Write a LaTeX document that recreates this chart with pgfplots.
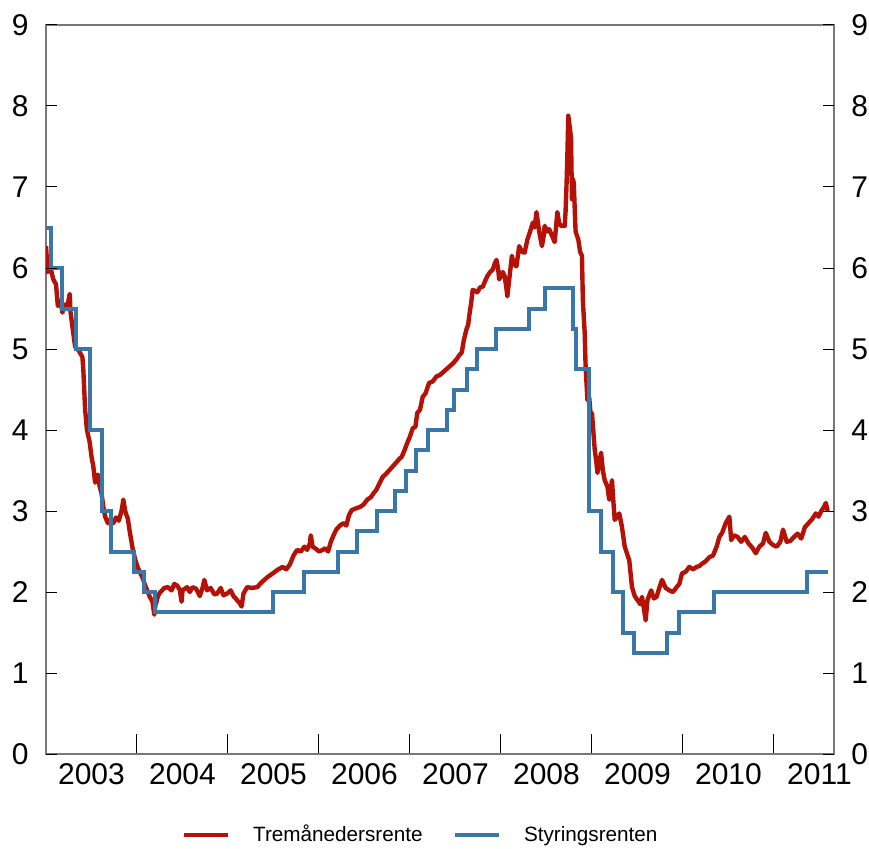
\documentclass[border=0pt]{standalone}
\usepackage{pgfplots}
\pgfplotsset{compat=1.18}
\usepackage{fontspec}
\setmainfont{Liberation Sans}
\definecolor{nibor}{RGB}{180,18,6}
\definecolor{styr}{RGB}{56,119,168}
\definecolor{axgray}{RGB}{120,120,120}

\pgfplotsset{
  base/.style={
    width=394pt, height=364.5pt, scale only axis,
    xmin=2003, xmax=2011.66, ymin=0, ymax=9,
    tick align=inside,
    tick style={black, line width=0.5pt},
    /pgf/number format/assume math mode=true,
    tick label style={font=\fontsize{15}{18}\selectfont},
  }
}

\begin{document}
\begin{tikzpicture}
\begin{axis}[base,
  axis line style={axgray, line width=0.8pt},
  xtick={2003,2004,2005,2006,2007,2008,2009,2010,2011},
  xticklabels={2003,2004,2005,2006,2007,2008,2009,2010,2011},
  xtick pos=left,
  xticklabel style={anchor=north, inner sep=0pt, xshift=22.75pt, yshift=-4.5pt},
  major tick length=10pt,
  ytick=\empty,
  legend columns=2,
  legend style={at={(axis description cs:0.474,0)}, anchor=center, yshift=-40.5pt,
    draw=none, fill=none, font=\fontsize{10.35}{12}\selectfont,
    nodes={inner sep=0pt},
    /tikz/every even column/.append style={column sep=15pt}},
  legend image code/.code={\draw[#1, line width=2.4pt] (0pt,0pt) -- (22pt,0pt); \path (33.5pt,0pt);},
]
% tremaanedersrente (3m NIBOR)
\addplot[nibor, line width=2.2pt, line join=round] coordinates {
(2003.00,6.27) (2003.01,6.10) (2003.02,5.95) (2003.05,6.00) (2003.08,5.86)
(2003.11,5.80) (2003.13,5.53) (2003.16,5.60) (2003.18,5.45) (2003.21,5.55)
(2003.23,5.49) (2003.26,5.68) (2003.27,5.45) (2003.29,5.28) (2003.32,5.03)
(2003.36,4.98) (2003.40,4.90) (2003.41,4.75) (2003.43,4.25) (2003.45,4.00)
(2003.48,3.85) (2003.50,3.67) (2003.52,3.55) (2003.54,3.35) (2003.57,3.45)
(2003.59,3.30) (2003.61,3.22) (2003.63,3.05) (2003.65,2.93) (2003.68,2.85)
(2003.71,2.90) (2003.74,2.85) (2003.77,2.92) (2003.80,2.88) (2003.83,3.00)
(2003.85,3.14) (2003.87,3.00) (2003.90,2.90) (2003.92,2.75) (2003.95,2.55)
(2003.98,2.40) (2004.01,2.30) (2004.03,2.25) (2004.06,2.18) (2004.09,2.08)
(2004.12,2.00) (2004.14,1.94) (2004.17,1.88) (2004.19,1.72) (2004.20,1.82)
(2004.23,1.95) (2004.25,1.99) (2004.30,2.05) (2004.34,2.06) (2004.38,2.02)
(2004.41,2.10) (2004.44,2.08) (2004.47,2.03) (2004.49,1.88) (2004.50,2.02)
(2004.55,2.06) (2004.58,2.00) (2004.61,2.06) (2004.65,2.04) (2004.69,1.95)
(2004.72,2.05) (2004.74,2.15) (2004.77,2.02) (2004.81,2.05) (2004.85,1.97)
(2004.88,1.98) (2004.92,2.05) (2004.95,1.96) (2004.99,1.98) (2005.03,2.02)
(2005.06,1.95) (2005.10,1.90) (2005.13,1.86) (2005.15,1.82) (2005.17,1.98)
(2005.21,2.06) (2005.26,2.05) (2005.32,2.06) (2005.37,2.12) (2005.43,2.18)
(2005.48,2.22) (2005.54,2.27) (2005.60,2.31) (2005.64,2.28) (2005.68,2.34)
(2005.72,2.45) (2005.76,2.52) (2005.80,2.50) (2005.84,2.56) (2005.87,2.52)
(2005.90,2.60) (2005.91,2.70) (2005.93,2.56) (2005.97,2.53) (2006.00,2.50)
(2006.04,2.52) (2006.07,2.54) (2006.10,2.50) (2006.13,2.62) (2006.16,2.70)
(2006.19,2.77) (2006.23,2.82) (2006.27,2.85) (2006.30,2.82) (2006.33,2.95)
(2006.36,3.01) (2006.40,3.03) (2006.45,3.05) (2006.49,3.08) (2006.53,3.14)
(2006.57,3.17) (2006.60,3.22) (2006.63,3.26) (2006.66,3.33) (2006.70,3.42)
(2006.73,3.45) (2006.77,3.50) (2006.81,3.55) (2006.85,3.60) (2006.88,3.64)
(2006.91,3.67) (2006.94,3.75) (2006.97,3.84) (2007.00,3.92) (2007.03,4.02)
(2007.06,4.04) (2007.08,4.21) (2007.11,4.25) (2007.14,4.41) (2007.17,4.45)
(2007.21,4.58) (2007.25,4.60) (2007.29,4.66) (2007.33,4.68) (2007.36,4.71)
(2007.40,4.75) (2007.44,4.79) (2007.47,4.82) (2007.51,4.87) (2007.54,4.92)
(2007.57,4.96) (2007.59,5.10) (2007.62,5.24) (2007.64,5.30) (2007.65,5.40)
(2007.67,5.55) (2007.69,5.73) (2007.71,5.72) (2007.74,5.70) (2007.77,5.76)
(2007.80,5.77) (2007.83,5.85) (2007.85,5.90) (2007.88,5.95) (2007.91,5.98)
(2007.93,6.05) (2007.95,6.10) (2007.97,5.98) (2007.98,5.86) (2008.02,5.95)
(2008.04,5.90) (2008.06,5.75) (2008.07,5.65) (2008.09,5.85) (2008.12,6.15)
(2008.14,6.05) (2008.17,6.02) (2008.20,6.27) (2008.23,6.20) (2008.26,6.19)
(2008.29,6.35) (2008.32,6.45) (2008.35,6.56) (2008.37,6.50) (2008.39,6.69)
(2008.42,6.45) (2008.45,6.27) (2008.47,6.40) (2008.48,6.52) (2008.51,6.45)
(2008.53,6.48) (2008.56,6.40) (2008.59,6.32) (2008.62,6.69) (2008.64,6.55)
(2008.66,6.52) (2008.70,6.52) (2008.71,6.70) (2008.72,7.01) (2008.73,7.40)
(2008.74,7.88) (2008.76,7.70) (2008.77,7.60) (2008.78,6.85) (2008.79,7.10)
(2008.80,7.05) (2008.82,6.45) (2008.85,6.35) (2008.87,6.20) (2008.89,6.15)
(2008.90,5.60) (2008.92,5.20) (2008.93,4.79) (2008.95,4.37) (2008.97,4.40)
(2008.99,4.13) (2009.00,4.21) (2009.03,3.76) (2009.05,3.59) (2009.06,3.47)
(2009.10,3.72) (2009.12,3.50) (2009.14,3.38) (2009.17,3.30) (2009.19,3.14)
(2009.22,3.38) (2009.23,3.20) (2009.25,2.89) (2009.30,2.97) (2009.33,2.80)
(2009.36,2.56) (2009.41,2.39) (2009.44,2.06) (2009.47,1.95) (2009.50,1.90)
(2009.53,1.85) (2009.55,1.94) (2009.57,1.80) (2009.59,1.65) (2009.61,1.90)
(2009.65,2.02) (2009.68,1.92) (2009.71,1.94) (2009.74,2.05) (2009.77,2.15)
(2009.81,2.05) (2009.85,2.02) (2009.89,2.00) (2009.93,2.06) (2009.96,2.10)
(2009.99,2.23) (2010.03,2.25) (2010.07,2.31) (2010.11,2.28) (2010.15,2.31)
(2010.18,2.32) (2010.21,2.35) (2010.25,2.38) (2010.29,2.43) (2010.33,2.45)
(2010.37,2.56) (2010.40,2.68) (2010.43,2.73) (2010.47,2.85) (2010.51,2.93)
(2010.53,2.64) (2010.56,2.70) (2010.60,2.68) (2010.64,2.62) (2010.68,2.68)
(2010.72,2.60) (2010.76,2.55) (2010.80,2.48) (2010.84,2.56) (2010.88,2.60)
(2010.91,2.73) (2010.95,2.62) (2010.99,2.58) (2011.03,2.56) (2011.07,2.62)
(2011.10,2.77) (2011.14,2.62) (2011.18,2.63) (2011.22,2.68) (2011.26,2.72)
(2011.30,2.66) (2011.34,2.80) (2011.38,2.85) (2011.42,2.90) (2011.46,2.97)
(2011.49,2.93) (2011.52,3.00) (2011.55,3.05) (2011.57,3.10) (2011.59,3.00)
};
\addlegendentry{Tremånedersrente}
% styringsrenten (policy rate), step changes
\addplot[styr, line width=2pt, const plot] coordinates {
(2003.000,6.5) (2003.058,6.0) (2003.172,5.5) (2003.329,5.0) (2003.482,4.0)
(2003.616,3.0) (2003.712,2.5) (2003.962,2.25) (2004.077,2.0) (2004.194,1.75)
(2005.493,2.0) (2005.838,2.25) (2006.205,2.5) (2006.414,2.75) (2006.638,3.0)
(2006.836,3.25) (2006.953,3.5) (2007.066,3.75) (2007.203,4.0) (2007.411,4.25)
(2007.488,4.5) (2007.622,4.75) (2007.737,5.0) (2007.948,5.25) (2008.310,5.5)
(2008.482,5.75) (2008.789,5.25) (2008.827,4.75) (2008.962,3.0) (2009.096,2.5)
(2009.230,2.0) (2009.345,1.5) (2009.460,1.25) (2009.822,1.5) (2009.959,1.75)
(2010.340,2.0) (2011.362,2.25) (2011.590,2.25)
};
\addlegendentry{Styringsrenten}
\end{axis}

% y ticks and labels, left
\begin{axis}[base,
  hide x axis, axis line style={draw=none},
  ytick={0,1,...,9}, ytick pos=left, yticklabel pos=left,
  major tick length=5.5pt,
  yticklabel style={anchor=east, inner sep=0pt, xshift=-8.5pt},
]
\end{axis}
% y ticks and labels, right
\begin{axis}[base,
  hide x axis, axis line style={draw=none},
  ytick={0,1,...,9}, ytick pos=right, yticklabel pos=right,
  major tick length=5.5pt,
  yticklabel style={anchor=west, inner sep=0pt, xshift=8.5pt},
]
\end{axis}
\path ([shift={(-23pt,-47pt)}]current axis.south west) rectangle ([shift={(17.5pt,12.5pt)}]current axis.north east);
\end{tikzpicture}
\end{document}
